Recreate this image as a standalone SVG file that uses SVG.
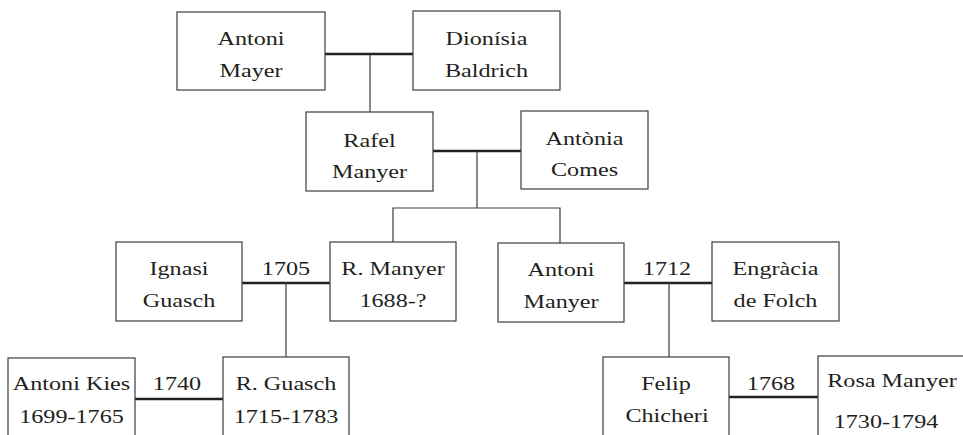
<svg xmlns="http://www.w3.org/2000/svg" width="963" height="435" viewBox="0 0 963 435">
<style>
.box{fill:#fff;stroke:#3c3c3c;stroke-width:1.2}
.t{font-family:"Liberation Serif","Times New Roman",serif;font-size:19.5px;fill:#231f20;text-anchor:middle}
.thick{stroke:#231f20;stroke-width:2.6;fill:none}
.thin{stroke:#3c3c3c;stroke-width:1.2;fill:none}
</style>
<rect width="963" height="435" fill="#fff"/>
<g id="connectors">
<line class="thick" x1="325" y1="54" x2="413" y2="54"/>
<line class="thick" x1="433" y1="151" x2="521" y2="151"/>
<line class="thick" x1="242" y1="283" x2="330" y2="283"/>
<line class="thick" x1="624" y1="283" x2="712" y2="283"/>
<line class="thick" x1="135" y1="399" x2="223" y2="399"/>
<line class="thick" x1="729" y1="397" x2="818" y2="397"/>
<line class="thin" x1="370" y1="54" x2="370" y2="112"/>
<line class="thin" x1="477" y1="151" x2="477" y2="208"/>
<polyline class="thin" points="393,242 393,208 560,208 560,243"/>
<line class="thin" x1="286" y1="283" x2="286" y2="357"/>
<line class="thin" x1="669" y1="283" x2="669" y2="357"/>
<text class="t" transform="translate(286 275) scale(1.24 1)">1705</text>
<text class="t" transform="translate(667 275) scale(1.24 1)">1712</text>
<text class="t" transform="translate(177 390) scale(1.24 1)">1740</text>
<text class="t" transform="translate(771 390) scale(1.24 1)">1768</text>
</g>
<g id="n_antoni_mayer">
<rect class="box" x="177" y="12" width="148" height="78"/>
<text class="t" transform="translate(251 45) scale(1.24 1)">Antoni</text>
<text class="t" transform="translate(251 77) scale(1.24 1)">Mayer</text>
</g>
<g id="n_dionisia_baldrich">
<rect class="box" x="413" y="11" width="147" height="79"/>
<text class="t" transform="translate(486.5 45) scale(1.24 1)">Dionísia</text>
<text class="t" transform="translate(486.5 77) scale(1.24 1)">Baldrich</text>
</g>
<g id="n_rafel_manyer">
<rect class="box" x="306" y="112" width="127" height="79"/>
<text class="t" transform="translate(369.5 147) scale(1.24 1)">Rafel</text>
<text class="t" transform="translate(369.5 178) scale(1.24 1)">Manyer</text>
</g>
<g id="n_antonia_comes">
<rect class="box" x="521" y="111" width="127" height="78"/>
<text class="t" transform="translate(584.5 145) scale(1.24 1)">Antònia</text>
<text class="t" transform="translate(584.5 176) scale(1.24 1)">Comes</text>
</g>
<g id="n_ignasi_guasch">
<rect class="box" x="116" y="242" width="126" height="79"/>
<text class="t" transform="translate(179 275) scale(1.24 1)">Ignasi</text>
<text class="t" transform="translate(179 307) scale(1.24 1)">Guasch</text>
</g>
<g id="n_r_manyer">
<rect class="box" x="330" y="242" width="126" height="79"/>
<text class="t" transform="translate(393 275) scale(1.24 1)">R. Manyer</text>
<text class="t" transform="translate(393 307) scale(1.24 1)">1688-?</text>
</g>
<g id="n_antoni_manyer">
<rect class="box" x="498" y="243" width="126" height="79"/>
<text class="t" transform="translate(561 276) scale(1.24 1)">Antoni</text>
<text class="t" transform="translate(561 308) scale(1.24 1)">Manyer</text>
</g>
<g id="n_engracia_de_folch">
<rect class="box" x="712" y="242" width="127" height="79"/>
<text class="t" transform="translate(775.5 275) scale(1.24 1)">Engràcia</text>
<text class="t" transform="translate(775.5 307) scale(1.24 1)">de Folch</text>
</g>
<g id="n_antoni_kies">
<rect class="box" x="8" y="358" width="127" height="82"/>
<text class="t" transform="translate(71.5 390) scale(1.24 1)">Antoni Kies</text>
<text class="t" transform="translate(71.5 423) scale(1.24 1)">1699-1765</text>
</g>
<g id="n_r_guasch">
<rect class="box" x="223" y="357" width="126" height="83"/>
<text class="t" transform="translate(286 390) scale(1.24 1)">R. Guasch</text>
<text class="t" transform="translate(286 423) scale(1.24 1)">1715-1783</text>
</g>
<g id="n_felip_chicheri">
<rect class="box" x="603" y="357" width="126" height="83"/>
<text class="t" transform="translate(666 390) scale(1.24 1)">Felip</text>
<text class="t" transform="translate(667 422) scale(1.24 1)">Chicheri</text>
</g>
<g id="n_rosa_manyer">
<rect class="box" x="818" y="356" width="150" height="84"/>
<text class="t" transform="translate(892 387) scale(1.24 1)">Rosa Manyer</text>
<text class="t" transform="translate(886 428) scale(1.24 1)">1730-1794</text>
</g>
</svg>
